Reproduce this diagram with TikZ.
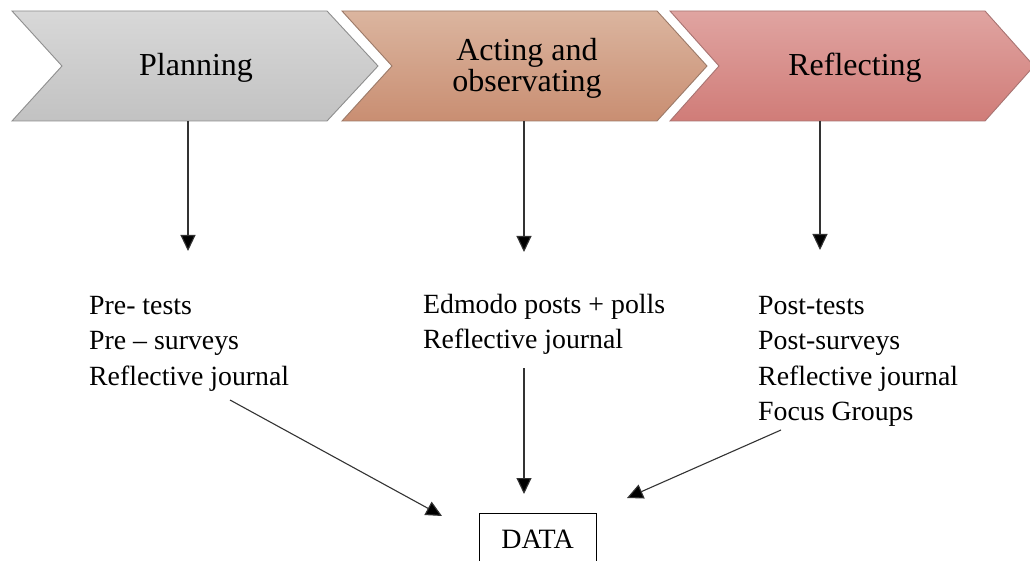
\documentclass[tikz,border=0pt]{standalone}
\usepackage{fontspec}
\setmainfont{Liberation Serif}
\usetikzlibrary{arrows.meta}

\definecolor{planTop}{HTML}{D8D8D8}
\definecolor{planBot}{HTML}{C2C2C2}
\definecolor{planLine}{HTML}{8E8E8E}
\definecolor{actTop}{HTML}{DBB59F}
\definecolor{actBot}{HTML}{C98E72}
\definecolor{actLine}{HTML}{9C7A68}
\definecolor{refTop}{HTML}{E0A4A1}
\definecolor{refBot}{HTML}{D07C78}
\definecolor{refLine}{HTML}{A87472}
\definecolor{arrowGrey}{HTML}{333333}

\tikzset{
  chevron/.style={draw, line width=0.9pt, line join=miter},
  phase/.style={inner sep=0pt, align=center, font=\fontsize{32}{31}\selectfont},
  % the base anchor of a multi-line node sits on its last line
  itemlist/.style={inner sep=0pt, align=left, anchor=base west, font=\fontsize{27.8}{35.5}\selectfont},
  flow/.style={draw=arrowGrey, line width=1.1pt,
    -{Triangle[length=16pt,width=15pt,fill=black]}},
  databox/.style={draw=black, line width=0.9pt, minimum width=117pt, minimum height=52pt,
    inner sep=0pt, anchor=north, font=\fontsize{28}{30}\selectfont}
}

\begin{document}
\begin{tikzpicture}[x=1pt,y=-1pt]
  \clip (0,0) rectangle (1030,561);
  \fill[white] (0,0) rectangle (1030,561);

  % the three phase chevrons
  \path[chevron, draw=planLine, top color=planTop, bottom color=planBot]
    (12,11) -- (327,11) -- (378,66) -- (327,121) -- (12,121) -- (62,66) -- cycle;
  \path[chevron, draw=actLine, top color=actTop, bottom color=actBot]
    (342,11) -- (657,11) -- (707,66) -- (657,121) -- (342,121) -- (392,66) -- cycle;
  \path[chevron, draw=refLine, top color=refTop, bottom color=refBot]
    (670,11) -- (985,11) -- (1034,66) -- (985,121) -- (670,121) -- (719,66) -- cycle;

  \node[phase, anchor=base] (plan) at (196,76) {Planning};
  \node[phase] (act) at (527,68) {Acting and\\observating};
  \node[phase, anchor=base] (refl) at (855,76) {Reflecting};

  % data sources collected in each phase
  \node[itemlist] (planItems) at (89,385) {Pre- tests\\Pre – surveys\\Reflective journal};
  \node[itemlist] (actItems) at (423,348.5) {Edmodo posts + polls\\Reflective journal};
  \node[itemlist] (reflItems) at (758,420.5) {Post-tests\\Post-surveys\\Reflective journal\\Focus Groups};

  \node[databox] (data) at (537.5,513) {DATA};

  % connector end points
  \coordinate (planOut) at (188,121);
  \coordinate (planIn)  at (188,251);
  \coordinate (actOut)  at (524,121);
  \coordinate (actIn)   at (524,252);
  \coordinate (reflOut) at (820,121);
  \coordinate (reflIn)  at (820,250);

  \coordinate (planSrc) at (230,400);
  \coordinate (planDst) at (442,516);
  \coordinate (actSrc)  at (524,368);
  \coordinate (actDst)  at (524,494);
  \coordinate (reflSrc) at (781,430);
  \coordinate (reflDst) at (627,498);

  \draw[flow] (planOut) -- (planIn);
  \draw[flow] (actOut) -- (actIn);
  \draw[flow] (reflOut) -- (reflIn);

  \draw[flow] (planSrc) -- (planDst);
  \draw[flow] (actSrc) -- (actDst);
  \draw[flow] (reflSrc) -- (reflDst);
\end{tikzpicture}
\end{document}
